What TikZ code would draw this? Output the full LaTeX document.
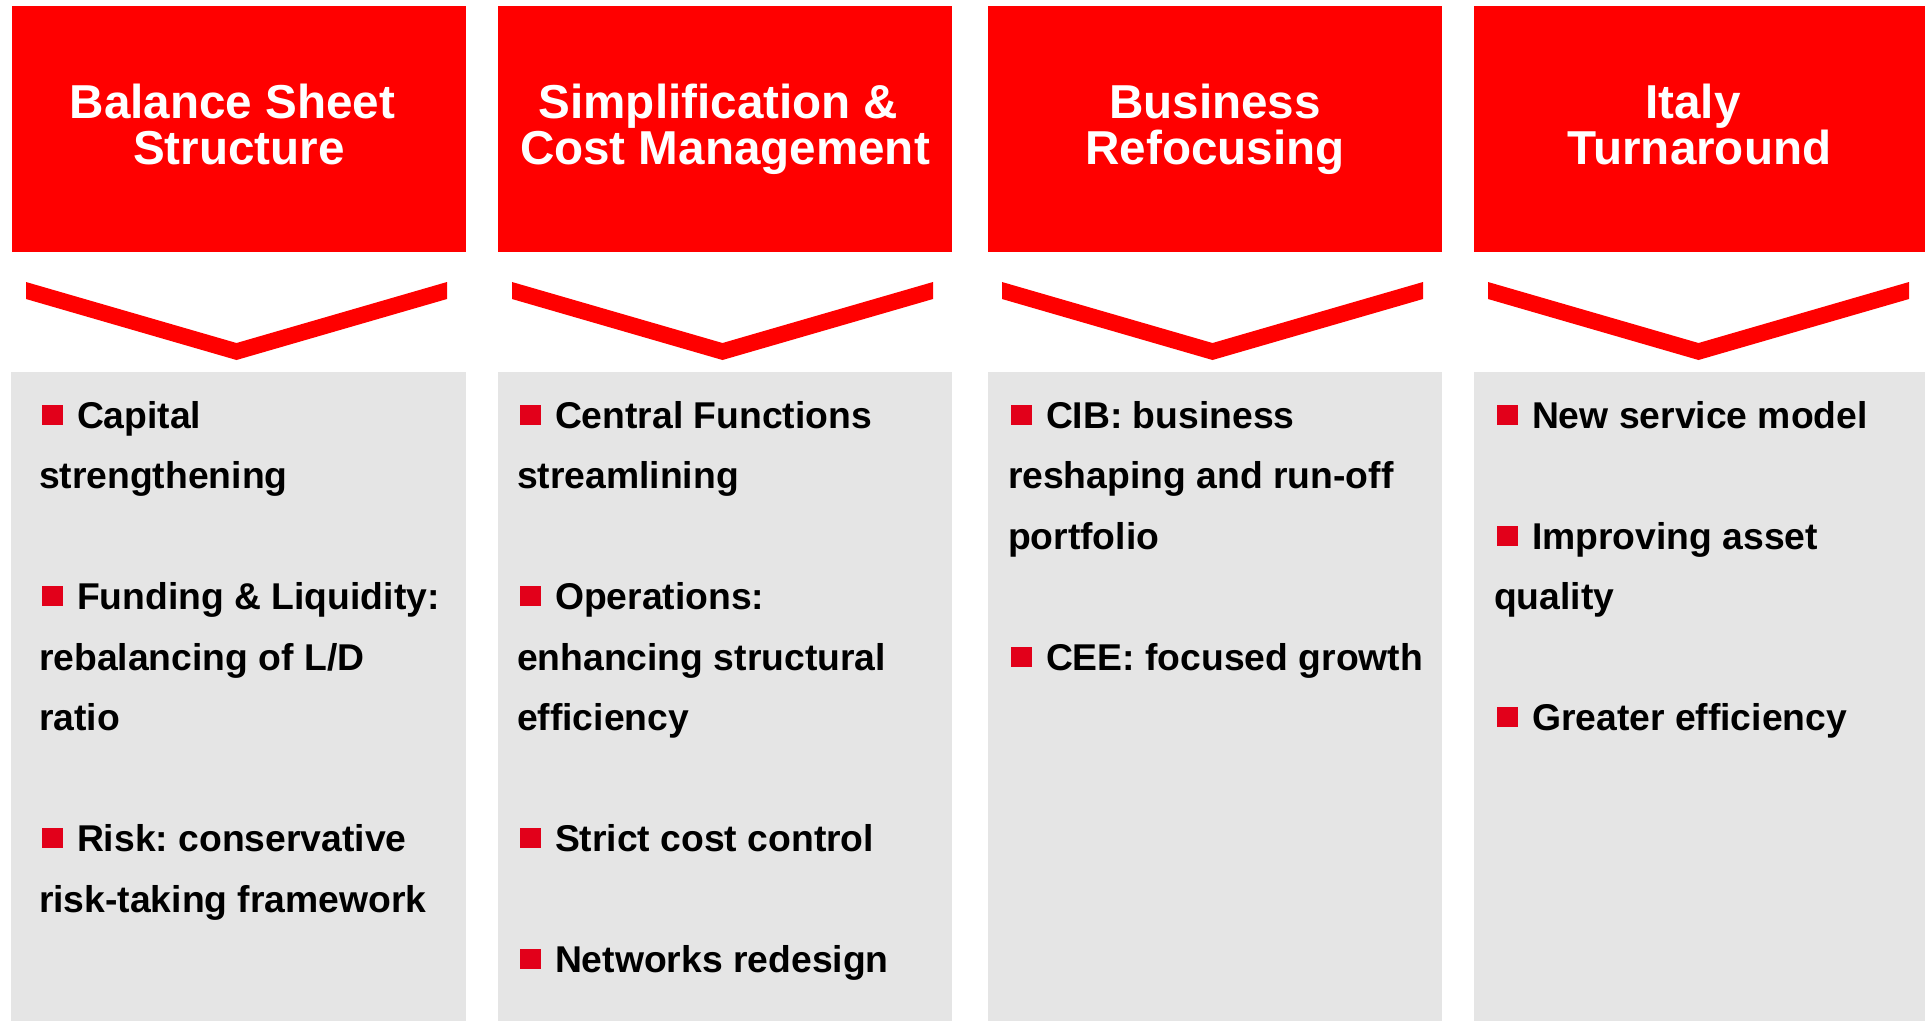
\documentclass[tikz,border=0pt]{standalone}
\usepackage{fontspec}
\setmainfont{Liberation Sans}
\frenchspacing
\definecolor{boxred}{HTML}{FF0000}
\definecolor{bulred}{HTML}{E2001A}
\definecolor{panelgrey}{HTML}{E5E5E5}
\newcommand{\bul}{\makebox[38pt][l]{\hspace{3pt}\textcolor{bulred}{\rule[3.5pt]{21pt}{20pt}}}}
\newcommand{\firststrut}{\rule{0pt}{40pt}}
\newcommand{\trail}{\hspace*{13pt}}
\begin{document}
\begin{tikzpicture}[x=1pt,y=-1pt,
  headbox/.style={fill=boxred, draw=none, inner sep=0pt, outer sep=0pt, anchor=north west, minimum height=246pt},
  panelbox/.style={fill=panelgrey, draw=none, inner sep=0pt, outer sep=0pt, anchor=north west, minimum height=649pt},
  chev/.style={fill=boxred, draw=none},
  titletext/.style={text=white, inner sep=0pt, outer sep=0pt, align=center, anchor=north,
    font=\fontsize{47.6}{46}\selectfont\bfseries\frenchspacing},
  bodytext/.style={text=black, inner sep=0pt, outer sep=0pt, align=left, anchor=north west,
    font=\fontsize{37.3}{60.46}\selectfont\bfseries\frenchspacing}
]
\useasboundingbox (0,0) rectangle (1925,1021);
\fill[white] (0,0) rectangle (1925,1021);

% header boxes
\node[headbox, minimum width=454pt] (h1) at (12,6) {};
\node[headbox, minimum width=454pt] (h2) at (498,6) {};
\node[headbox, minimum width=454pt] (h3) at (988,6) {};
\node[headbox, minimum width=451pt] (h4) at (1474,6) {};

% grey panels
\node[panelbox, minimum width=455pt] (p1) at (11,372) {};
\node[panelbox, minimum width=454pt] (p2) at (498,372) {};
\node[panelbox, minimum width=454pt] (p3) at (988,372) {};
\node[panelbox, minimum width=451pt] (p4) at (1474,372) {};

% chevrons
\foreach \bx in {12,498,988,1474}{
  \fill[chev] (\bx+14,282) -- (\bx+224.5,343) -- (\bx+435,282) -- (\bx+435,299)
    -- (\bx+224.5,360) -- (\bx+14,299) -- cycle;
}

% titles
\node[titletext] (t1) at (239,78) {\firststrut Balance Sheet\trail\\Structure};
\node[titletext] (t2) at (725,78) {\firststrut Simplification \&\trail\\Cost Management};
\node[titletext] (t3) at (1215,78) {\firststrut Business\\Refocusing};
\node[titletext] (t4) at (1699.5,78) {\firststrut Italy\trail\\Turnaround};

% bodies
\node[bodytext] (b1) at (39,388.5) {\firststrut\bul Capital\\
strengthening\\[60.46pt]
\bul Funding \& Liquidity:\\
rebalancing of L/D\\
ratio\\[60.46pt]
\bul Risk: conservative\\
risk-taking framework};

\node[bodytext] (b2) at (517,388.5) {\firststrut\bul Central Functions\\
streamlining\\[60.46pt]
\bul Operations:\\
enhancing structural\\
efficiency\\[60.46pt]
\bul Strict cost control\\[60.46pt]
\bul Networks redesign};

\node[bodytext] (b3) at (1008,388.5) {\firststrut\bul CIB: business\\
reshaping and run-off\\
portfolio\\[60.46pt]
\bul CEE: focused growth};

\node[bodytext] (b4) at (1494,388.5) {\firststrut\bul New service model\\[60.46pt]
\bul Improving asset\\
quality\\[60.46pt]
\bul Greater efficiency};
\end{tikzpicture}
\end{document}
